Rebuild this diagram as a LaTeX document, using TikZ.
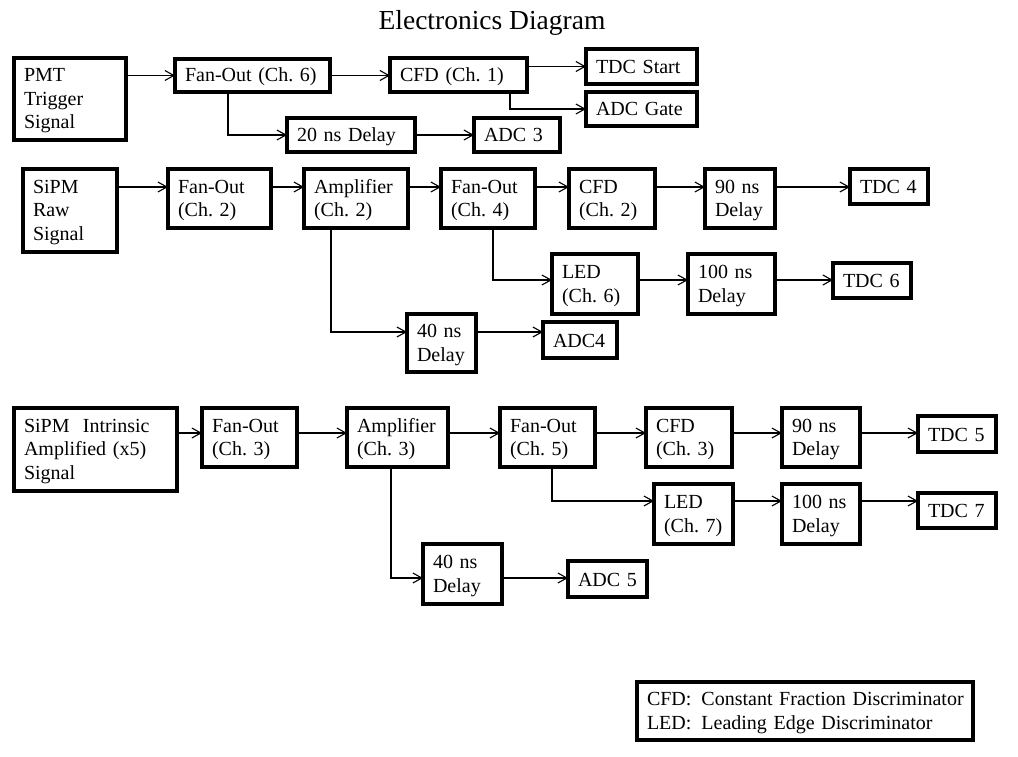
\documentclass[tikz,border=0pt]{standalone}
\usepackage{fontspec}
\setmainfont{Liberation Serif}
\usetikzlibrary{arrows.meta}
\frenchspacing
\newcommand\mybox[6]{%
  \pgfmathsetmacro\myBW{#4-#2}%
  \pgfmathsetmacro\myBH{#5-#3}%
  \pgfmathsetmacro\myTW{#4-#2-20}%
  \pgfmathsetmacro\myCX{(#2+#4)/2}%
  \pgfmathsetmacro\myCY{(#3+#5)/2}%
  \node[box, minimum width=\myBW pt, minimum height=\myBH pt, text width=\myTW pt] (#1) at (\myCX,\myCY)
    {\rule{0pt}{17pt}#6\rule[-3pt]{0pt}{3pt}};}
\begin{document}
\begin{tikzpicture}[x=1pt,y=-1pt,
  box/.style={draw, line width=3.2pt, inner xsep=10pt, inner ysep=0pt, outer sep=0pt,
    align=left, font=\fontsize{20}{23.5}\selectfont},
  arr/.style={line width=1.1pt, -{Straight Barb[length=9pt,width=10pt]}}]
\fill[white] (0,0) rectangle (1018,757);
\useasboundingbox (0,0) rectangle (1018,757);

\node[font=\fontsize{27.5}{30}\selectfont, anchor=base] (title) at (492,30) {Electronics Diagram};

% Row 1
\mybox{pmt}{14}{58}{126}{140}{PMT\\Trigger\\Signal}
\mybox{fo6}{175}{59}{330}{92}{Fan-Out (Ch. 6)}
\mybox{cfd1}{390}{58}{527}{92}{CFD (Ch. 1)}
\mybox{tdcS}{586}{49}{697}{84}{TDC Start}
\mybox{adcG}{586}{92}{697}{126}{ADC Gate}
\mybox{d20}{287}{118}{415}{152}{20 ns Delay}
\mybox{adc3}{474}{118}{560}{152}{ADC 3}

\draw[arr] (pmt.east |- fo6.west) -- (fo6.west);
\draw[arr] (fo6.east) -- (fo6.east -| cfd1.west);
\draw[arr] (cfd1.east |- tdcS.west) -- (tdcS.west);
\draw[arr] ([xshift=-17pt]cfd1.south east) |- (adcG.west);
\draw[arr] ([xshift=53pt]fo6.south west) |- (d20.west);
\draw[arr] (d20.east) -- (adc3.west);

% Row 2
\mybox{raw}{23}{169}{117}{252}{SiPM\\Raw\\Signal}
\mybox{fo2}{168}{169}{271}{228}{Fan-Out\\(Ch. 2)}
\mybox{amp2}{304}{169}{408}{228}{Amplifier\\(Ch. 2)}
\mybox{fo4}{441}{169}{535}{228}{Fan-Out\\(Ch. 4)}
\mybox{cfd2}{569}{169}{655}{228}{CFD\\(Ch. 2)}
\mybox{d90a}{705}{169}{775}{228}{90 ns\\Delay}
\mybox{tdc4}{850}{169}{928}{204}{TDC 4}
\mybox{led6}{552}{254}{638}{314}{LED\\(Ch. 6)}
\mybox{d100a}{688}{254}{775}{314}{100 ns\\Delay}
\mybox{tdc6}{833}{263}{911}{298}{TDC 6}
\mybox{d40a}{407}{314}{476}{372}{40 ns\\Delay}
\mybox{adc4}{543}{322}{617}{358}{ADC4}

\coordinate (r2) at (0,187);
\coordinate (r2b) at (0,332);
\coordinate (r2c) at (0,280);
\draw[arr] (raw.east |- r2) -- (fo2.west |- r2);
\draw[arr] (fo2.east |- r2) -- (amp2.west |- r2);
\draw[arr] (amp2.east |- r2) -- (fo4.west |- r2);
\draw[arr] (fo4.east |- r2) -- (cfd2.west |- r2);
\draw[arr] (cfd2.east |- r2) -- (d90a.west |- r2);
\draw[arr] (d90a.east |- r2) -- (tdc4.west |- r2);
\draw[arr] ([xshift=27pt]amp2.south west) |- (d40a.west |- r2b);
\draw[arr] (d40a.east |- r2b) -- (adc4.west |- r2b);
\draw[arr] ([xshift=52pt]fo4.south west) |- (led6.west |- r2c);
\draw[arr] (led6.east |- r2c) -- (d100a.west |- r2c);
\draw[arr] (d100a.east |- r2c) -- (tdc6.west |- r2c);

% Row 3
\mybox{raw3}{14}{408}{177}{491}{SiPM\ \ Intrinsic\\Amplified (x5)\\Signal}
\mybox{fo3}{202}{408}{297}{467}{Fan-Out\\(Ch. 3)}
\mybox{amp3}{347}{408}{448}{467}{Amplifier\\(Ch. 3)}
\mybox{fo5}{500}{408}{595}{467}{Fan-Out\\(Ch. 5)}
\mybox{cfd3}{646}{408}{732}{467}{CFD\\(Ch. 3)}
\mybox{d90b}{782}{408}{860}{467}{90 ns\\Delay}
\mybox{tdc5}{918}{416}{996}{452}{TDC 5}
\mybox{led7}{654}{484}{733}{544}{LED\\(Ch. 7)}
\mybox{d100b}{782}{484}{860}{544}{100 ns\\Delay}
\mybox{tdc7}{918}{493}{996}{528}{TDC 7}
\mybox{d40b}{423}{544}{502}{604}{40 ns\\Delay}
\mybox{adc5}{568}{561}{647}{597}{ADC 5}

\coordinate (r3) at (0,433);
\coordinate (r3b) at (0,578);
\coordinate (r3c) at (0,501);
\draw[arr] (raw3.east |- r3) -- (fo3.west |- r3);
\draw[arr] (fo3.east |- r3) -- (amp3.west |- r3);
\draw[arr] (amp3.east |- r3) -- (fo5.west |- r3);
\draw[arr] (fo5.east |- r3) -- (cfd3.west |- r3);
\draw[arr] (cfd3.east |- r3) -- (d90b.west |- r3);
\draw[arr] (d90b.east |- r3) -- (tdc5.west |- r3);
\draw[arr] ([xshift=44pt]amp3.south west) |- (d40b.west |- r3b);
\draw[arr] (d40b.east |- r3b) -- (adc5.west |- r3b);
\draw[arr] ([xshift=52pt]fo5.south west) |- (led7.west |- r3c);
\draw[arr] (led7.east |- r3c) -- (d100b.west |- r3c);
\draw[arr] (d100b.east |- r3c) -- (tdc7.west |- r3c);

% Legend
\mybox{legend}{637}{682}{973}{740}{\mbox{CFD:\hspace{10pt}Constant Fraction Discriminator}\\\mbox{LED:\hspace{10pt}Leading Edge Discriminator}}
\end{tikzpicture}
\end{document}
